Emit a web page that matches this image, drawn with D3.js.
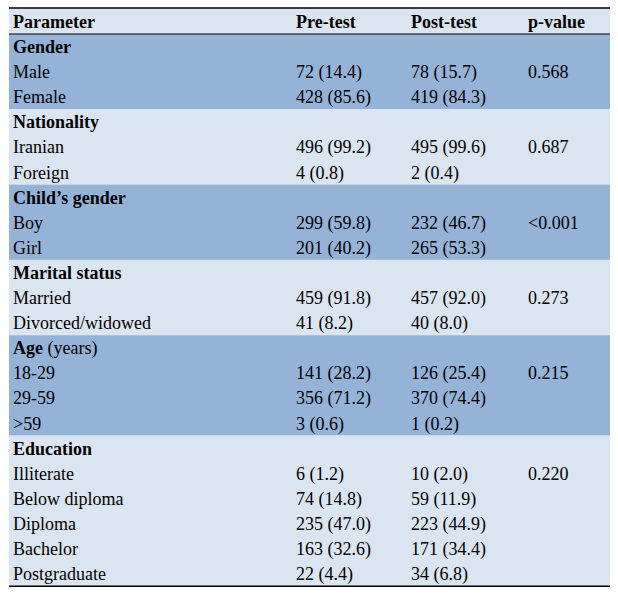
<!DOCTYPE html>
<html><head><meta charset="utf-8">
<script src="https://cdn.jsdelivr.net/npm/d3@7"></script>
<style>body{margin:0;background:#fff;} text{font-family:"Liberation Serif",serif;font-size:18px;fill:#000;}</style>
</head><body><div id="chart"></div>
<script>
const columns = ["Parameter", "Pre-test", "Post-test", "p-value"];
const groups = [
  { name: "Gender", suffix: "", p: "0.568", rows: [["Male", "72 (14.4)", "78 (15.7)"], ["Female", "428 (85.6)", "419 (84.3)"]] },
  { name: "Nationality", suffix: "", p: "0.687", rows: [["Iranian", "496 (99.2)", "495 (99.6)"], ["Foreign", "4 (0.8)", "2 (0.4)"]] },
  { name: "Child\u2019s gender", suffix: "", p: "<0.001", rows: [["Boy", "299 (59.8)", "232 (46.7)"], ["Girl", "201 (40.2)", "265 (53.3)"]] },
  { name: "Marital status", suffix: "", p: "0.273", rows: [["Married", "459 (91.8)", "457 (92.0)"], ["Divorced/widowed", "41 (8.2)", "40 (8.0)"]] },
  { name: "Age", suffix: " (years)", p: "0.215", rows: [["18-29", "141 (28.2)", "126 (25.4)"], ["29-59", "356 (71.2)", "370 (74.4)"], [">59", "3 (0.6)", "1 (0.2)"]] },
  { name: "Education", suffix: "", p: "0.220", rows: [["Illiterate", "6 (1.2)", "10 (2.0)"], ["Below diploma", "74 (14.8)", "59 (11.9)"], ["Diploma", "235 (47.0)", "223 (44.9)"], ["Bachelor", "163 (32.6)", "171 (34.4)"], ["Postgraduate", "22 (4.4)", "34 (6.8)"]] }
];
const colX = [13, 296, 411, 528];
const tLeft = 9, tRight = 610, tTop = 8, headH = 26, rowH = 25.1;

const svg = d3.select("#chart").append("svg").attr("width", 618).attr("height", 595);
svg.append("rect").attr("x", tLeft).attr("y", tTop).attr("width", tRight - tLeft).attr("height", headH).attr("fill", "#dbe5f1");
svg.selectAll(".hd").data(columns).enter().append("text")
  .attr("x", (d, i) => colX[i]).attr("y", tTop + 20).attr("font-weight", "bold").text(d => d);

let y = tTop + headH;
groups.forEach((g, gi) => {
  const n = g.rows.length + 1;
  svg.append("rect").attr("x", tLeft).attr("y", y).attr("width", tRight - tLeft).attr("height", n * rowH)
    .attr("fill", gi % 2 === 0 ? "#95b3d7" : "#dbe5f1");
  const t = svg.append("text").attr("x", colX[0]).attr("y", y + 19);
  t.append("tspan").attr("font-weight", "bold").text(g.name);
  if (g.suffix) t.append("tspan").text(g.suffix);
  g.rows.forEach((r, ri) => {
    const ry = y + (ri + 1) * rowH + 19;
    r.forEach((c, ci) => svg.append("text").attr("x", colX[ci]).attr("y", ry).text(c));
    if (ri === 0) svg.append("text").attr("x", colX[3]).attr("y", ry).text(g.p);
  });
  y += n * rowH;
});
svg.append("line").attr("x1", tLeft).attr("x2", tRight).attr("y1", tTop).attr("y2", tTop).attr("stroke", "#000").attr("stroke-width", 1.5);
svg.append("line").attr("x1", tLeft).attr("x2", tRight).attr("y1", tTop + headH).attr("y2", tTop + headH).attr("stroke", "#000").attr("stroke-width", 1);
svg.append("line").attr("x1", tLeft).attr("x2", tRight).attr("y1", y).attr("y2", y).attr("stroke", "#000").attr("stroke-width", 1.5);
</script></body></html>
